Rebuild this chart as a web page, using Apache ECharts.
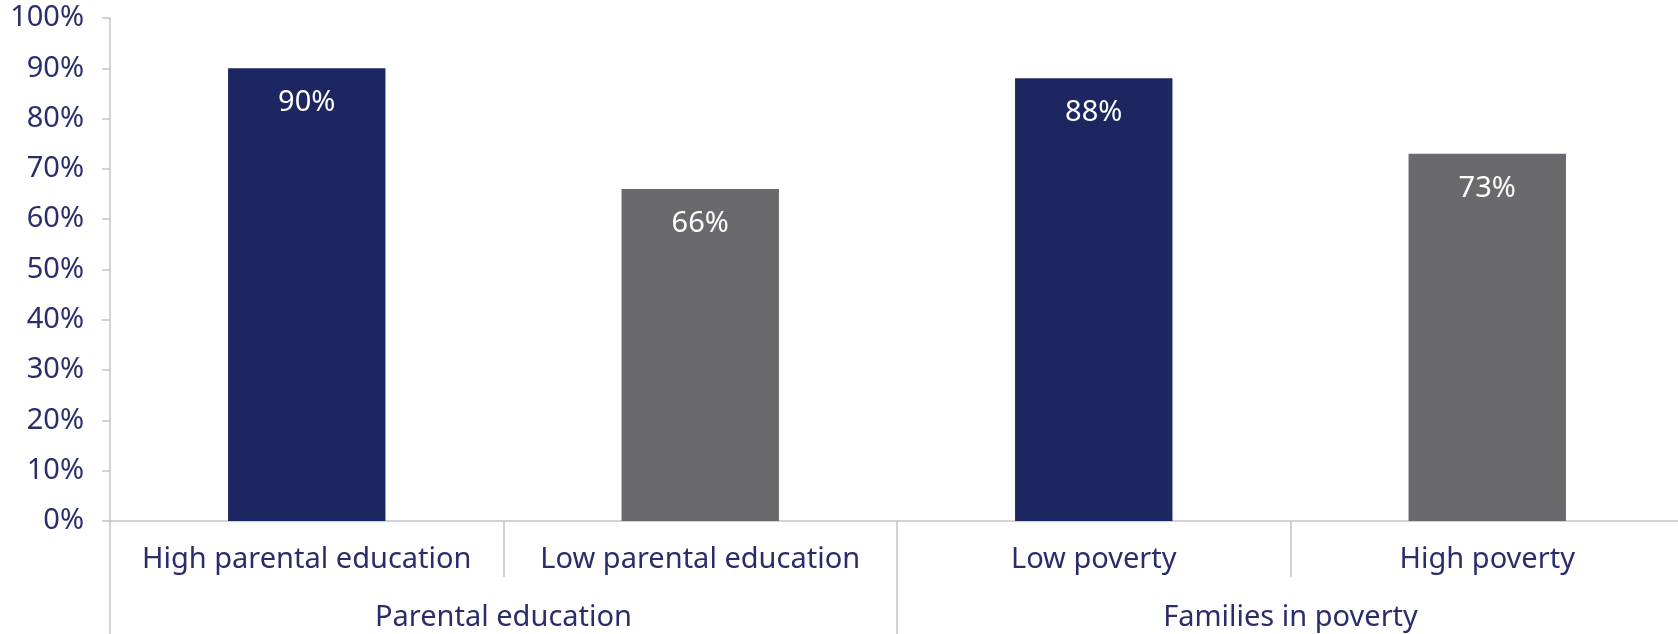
<!DOCTYPE html>
<html>
<head>
<meta charset="utf-8">
<script src="https://cdn.jsdelivr.net/npm/echarts@6/dist/echarts.min.js"></script>
<style>
  html, body { margin: 0; padding: 0; background: #fff; overflow: hidden; }
  #chart { width: 1684px; height: 634px; }
</style>
</head>
<body>
<div id="chart"></div>
<script>
var categories = ['High parental education', 'Low parental education', 'Low poverty', 'High poverty'];
var groups = ['Parental education', 'Families in poverty'];
var values = [90, 66, 88, 73];
var barColors = ['#1c2660', '#6a696e', '#1c2660', '#6a696e'];
var yTicks = { min: 0, max: 100, interval: 10 };

var textColor = '#2a2d6b';
var lineColor = '#c3c2cb';
var fontFamily = '"Noto Sans", sans-serif';

var myChart = echarts.init(document.getElementById('chart'));

var option = {
  animation: false,
  textStyle: { fontFamily: fontFamily },
  grid: { left: 110, right: 0, top: 18, bottom: 113 },
  xAxis: [{
    type: 'category',
    data: categories,
    axisLine: { show: true, lineStyle: { color: lineColor, width: 1.5 } },
    axisTick: { show: true, interval: 0, length: 56, lineStyle: { color: lineColor, width: 1.5 } },
    axisLabel: { interval: 0, color: textColor, fontSize: 29, margin: 24, fontFamily: fontFamily }
  }, {
    type: 'category',
    position: 'bottom',
    data: groups,
    axisLine: { show: false },
    axisTick: { show: true, interval: 0, length: 115, lineStyle: { color: lineColor, width: 1.5 } },
    axisLabel: { interval: 0, color: textColor, fontSize: 29, margin: 82, fontFamily: fontFamily }
  }],
  yAxis: {
    type: 'value',
    min: yTicks.min,
    max: yTicks.max,
    interval: yTicks.interval,
    axisLine: { show: true, lineStyle: { color: lineColor, width: 1.5 } },
    axisTick: { show: true, length: 8, lineStyle: { color: lineColor, width: 1.5 } },
    splitLine: { show: false },
    axisLabel: {
      color: textColor,
      fontSize: 29,
      margin: 26,
      fontFamily: fontFamily,
      formatter: '{value}%'
    }
  },
  series: [{
    type: 'bar',
    xAxisIndex: 0,
    barWidth: '40%',
    data: values.map(function (v, i) {
      return { value: v, itemStyle: { color: barColors[i] } };
    }),
    label: {
      show: true,
      position: 'insideTop',
      distance: 20,
      color: '#ffffff',
      fontSize: 29,
      fontFamily: fontFamily,
      formatter: '{c}%'
    }
  }]
};

myChart.setOption(option);
</script>
</body>
</html>
